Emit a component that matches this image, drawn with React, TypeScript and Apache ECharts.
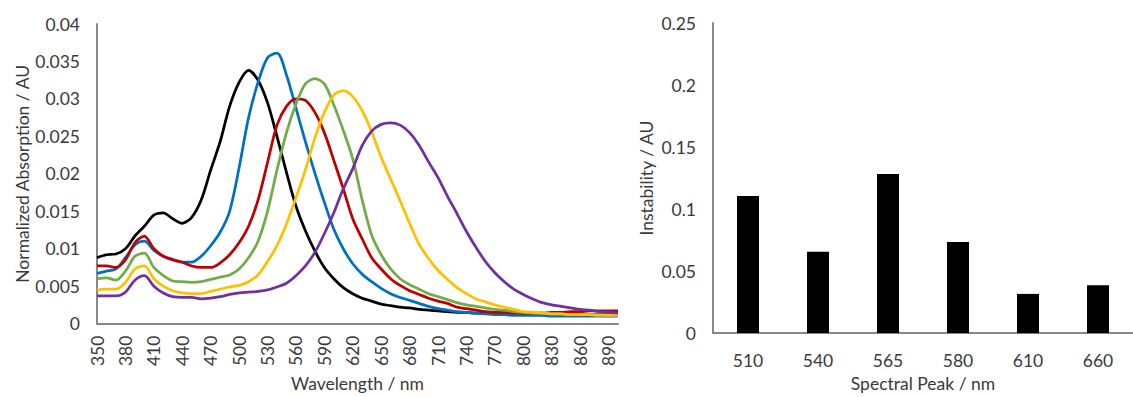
import React, { useEffect, useRef } from "react";
import * as echarts from "echarts";

const wavelengths: string[] = [
  "350","360","370","380","390","400","410","420","430","440",
  "450","460","470","480","490","500","510","520","530","540",
  "550","560","570","580","590","600","610","620","630","640",
  "650","660","670","680","690","700","710","720","730","740",
  "750","760","770","780","790","800","810","820","830","840",
  "850","860","870","880","890","900",
];

const black = [
  0.0088, 0.0092, 0.0093, 0.0100, 0.0117, 0.0130, 0.0145, 0.0148, 0.0140, 0.0134,
  0.0142, 0.0165, 0.0205, 0.0243, 0.0290, 0.0322, 0.0338, 0.0325, 0.0295, 0.0250,
  0.0202, 0.0157, 0.0124, 0.0097, 0.0075, 0.0060, 0.0048, 0.0040, 0.0034, 0.0030,
  0.0026, 0.0024, 0.0022, 0.0021, 0.0019, 0.0018, 0.0017, 0.0016, 0.0015, 0.0015,
  0.0014, 0.0014, 0.0013, 0.0013, 0.0013, 0.0012, 0.0012, 0.0012, 0.0012, 0.0012,
  0.0012, 0.0012, 0.0012, 0.0012, 0.0012, 0.0012,
];
const blue = [
  0.0067, 0.0070, 0.0073, 0.0088, 0.0105, 0.0110, 0.0098, 0.0090, 0.0086, 0.0082,
  0.0082, 0.0090, 0.0104, 0.0122, 0.0150, 0.0208, 0.0275, 0.0322, 0.0355, 0.0361,
  0.0332, 0.0288, 0.0243, 0.0201, 0.0162, 0.0126, 0.0100, 0.0080, 0.0066, 0.0056,
  0.0047, 0.0040, 0.0035, 0.0031, 0.0027, 0.0023, 0.0020, 0.0018, 0.0016, 0.0015,
  0.0014, 0.0013, 0.0012, 0.0012, 0.0011, 0.0011, 0.0011, 0.0011, 0.0010, 0.0010,
  0.0010, 0.0010, 0.0010, 0.0010, 0.0010, 0.0010,
];
const red = [
  0.0077, 0.0077, 0.0075, 0.0085, 0.0108, 0.0117, 0.0100, 0.0090, 0.0085, 0.0082,
  0.0077, 0.0075, 0.0075, 0.0081, 0.0092, 0.0108, 0.0130, 0.0165, 0.0215, 0.0265,
  0.0290, 0.0300, 0.0298, 0.0282, 0.0255, 0.0218, 0.0180, 0.0140, 0.0113, 0.0088,
  0.0073, 0.0060, 0.0051, 0.0044, 0.0039, 0.0034, 0.0030, 0.0027, 0.0022, 0.0020,
  0.0018, 0.0016, 0.0015, 0.0015, 0.0014, 0.0014, 0.0014, 0.0014, 0.0015, 0.0015,
  0.0016, 0.0016, 0.0017, 0.0017, 0.0017, 0.0017,
];
const green = [
  0.0060, 0.0061, 0.0058, 0.0070, 0.0090, 0.0094, 0.0075, 0.0064, 0.0057, 0.0056,
  0.0055, 0.0056, 0.0059, 0.0062, 0.0065, 0.0073, 0.0088, 0.0110, 0.0150, 0.0205,
  0.0255, 0.0293, 0.0320, 0.0327, 0.0320, 0.0292, 0.0258, 0.0220, 0.0165, 0.0118,
  0.0092, 0.0073, 0.0060, 0.0052, 0.0046, 0.0040, 0.0036, 0.0032, 0.0028, 0.0025,
  0.0023, 0.0021, 0.0019, 0.0018, 0.0016, 0.0015, 0.0014, 0.0014, 0.0013, 0.0013,
  0.0012, 0.0012, 0.0012, 0.0012, 0.0012, 0.0012,
];
const gold = [
  0.0045, 0.0046, 0.0046, 0.0055, 0.0073, 0.0077, 0.0060, 0.0050, 0.0044, 0.0041,
  0.0040, 0.0040, 0.0043, 0.0046, 0.0049, 0.0051, 0.0056, 0.0065, 0.0083, 0.0104,
  0.0133, 0.0168, 0.0205, 0.0248, 0.0282, 0.0305, 0.0311, 0.0303, 0.0284, 0.0256,
  0.0222, 0.0193, 0.0164, 0.0134, 0.0106, 0.0087, 0.0071, 0.0059, 0.0048, 0.0040,
  0.0033, 0.0029, 0.0025, 0.0022, 0.0019, 0.0016, 0.0015, 0.0014, 0.0013, 0.0013,
  0.0012, 0.0012, 0.0012, 0.0011, 0.0011, 0.0011,
];
const purple = [
  0.0037, 0.0037, 0.0037, 0.0042, 0.0058, 0.0064, 0.0050, 0.0041, 0.0036, 0.0035,
  0.0035, 0.0033, 0.0034, 0.0036, 0.0039, 0.0041, 0.0042, 0.0043, 0.0045, 0.0049,
  0.0054, 0.0064, 0.0077, 0.0095, 0.0120, 0.0148, 0.0180, 0.0207, 0.0238, 0.0257,
  0.0266, 0.0268, 0.0265, 0.0255, 0.0238, 0.0216, 0.0195, 0.0170, 0.0147, 0.0123,
  0.0102, 0.0083, 0.0068, 0.0056, 0.0046, 0.0039, 0.0033, 0.0028, 0.0025, 0.0023,
  0.0021, 0.0019, 0.0018, 0.0016, 0.0015, 0.0014,
];

const peakCategories = ["510", "540", "565", "580", "610", "660"];
const instability = [0.1105, 0.0656, 0.1283, 0.0734, 0.0316, 0.0386];

const lineSeries = [
  { name: "black", data: black, color: "#000000" },
  { name: "blue", data: blue, color: "#0070C0" },
  { name: "red", data: red, color: "#C00000" },
  { name: "green", data: green, color: "#70AD47" },
  { name: "gold", data: gold, color: "#FFC000" },
  { name: "purple", data: purple, color: "#7030A0" },
];

const FONT = "Lato";
const TXT = "#3a3a3a";
const AXIS = "#888888";
const FS = 17.5;

export default function App() {
  const ref = useRef<HTMLDivElement>(null);
  useEffect(() => {
    if (!ref.current) return;
    const chart = echarts.init(ref.current, null, { renderer: "svg" });
    chart.setOption({
      animation: false,
      backgroundColor: "#ffffff",
      textStyle: { fontFamily: FONT },
      grid: [
        { left: 97, top: 24, width: 521, height: 305 },
        { left: 713, top: 23, width: 428, height: 319 },
      ],
      xAxis: [
        {
          type: "category",
          gridIndex: 0,
          data: wavelengths,
          boundaryGap: false,
          name: "Wavelength / nm",
          nameLocation: "middle",
          nameGap: 46,
          nameTextStyle: { color: TXT, fontSize: FS, fontFamily: FONT },
          axisLine: { lineStyle: { color: AXIS, width: 2 } },
          axisTick: { show: false },
          axisLabel: {
            interval: 2,
            rotate: 90,
            margin: 12,
            color: TXT,
            fontSize: FS,
            fontFamily: FONT,
          },
          splitLine: { show: false },
        },
        {
          type: "category",
          gridIndex: 1,
          data: peakCategories,
          name: "Spectral Peak / nm",
          nameLocation: "middle",
          nameGap: 36,
          nameTextStyle: { color: TXT, fontSize: FS, fontFamily: FONT },
          axisLine: { lineStyle: { color: AXIS, width: 2 } },
          axisTick: { show: false },
          axisLabel: { margin: 18, color: TXT, fontSize: FS, fontFamily: FONT },
          splitLine: { show: false },
        },
      ],
      yAxis: [
        {
          type: "value",
          gridIndex: 0,
          min: 0,
          max: 0.04,
          interval: 0.005,
          name: "Normalized Absorption / AU",
          nameLocation: "middle",
          nameGap: 64,
          nameTextStyle: { color: TXT, fontSize: FS, fontFamily: FONT },
          axisLine: { show: true, lineStyle: { color: AXIS, width: 2 } },
          axisTick: { show: false },
          axisLabel: { margin: 17, color: TXT, fontSize: FS, fontFamily: FONT },
          splitLine: { show: false },
        },
        {
          type: "value",
          gridIndex: 1,
          min: 0,
          max: 0.25,
          interval: 0.05,
          name: "Instability / AU",
          nameLocation: "middle",
          nameGap: 58,
          nameTextStyle: { color: TXT, fontSize: FS, fontFamily: FONT },
          axisLine: { show: true, lineStyle: { color: AXIS, width: 2 } },
          axisTick: { show: false },
          axisLabel: { margin: 17, color: TXT, fontSize: FS, fontFamily: FONT },
          splitLine: { show: false },
        },
      ],
      series: [
        ...lineSeries.map((s) => ({
          name: s.name,
          type: "line",
          xAxisIndex: 0,
          yAxisIndex: 0,
          data: s.data,
          smooth: 0.3,
          showSymbol: false,
          lineStyle: { color: s.color, width: 2.75 },
          itemStyle: { color: s.color },
        })),
        {
          name: "Instability",
          type: "bar",
          xAxisIndex: 1,
          yAxisIndex: 1,
          data: instability,
          barWidth: 22,
          itemStyle: { color: "#000000" },
        },
      ],
    });
    return () => chart.dispose();
  }, []);
  return (
    <div style={{ position: "fixed", left: 0, top: 0, width: 1133, height: 397, overflow: "hidden", background: "#fff" }}>
      <div ref={ref} style={{ width: 1133, height: 397 }} />
    </div>
  );
}
